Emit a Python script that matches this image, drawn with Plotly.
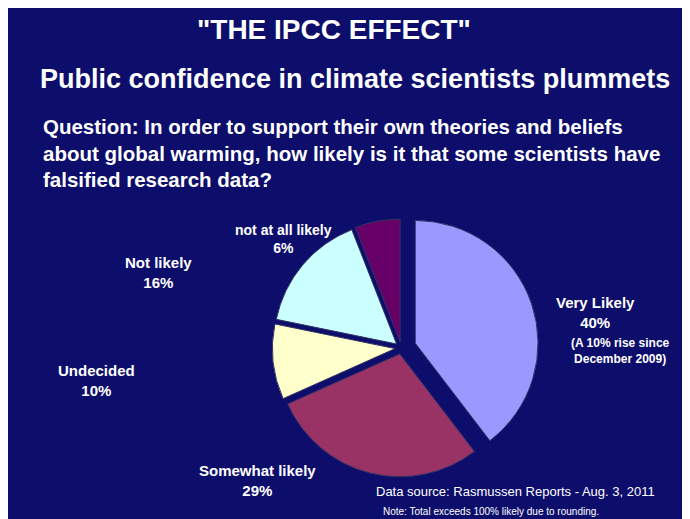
import plotly.graph_objects as go

labels = ["Very Likely", "Somewhat likely", "Undecided", "Not likely", "not at all likely"]
values = [40, 29, 10, 16, 6]
colors = ["#9999FF", "#993366", "#FFFFCC", "#CCFFFF", "#660066"]

fig = go.Figure(go.Pie(
    labels=labels, values=values, sort=False,
    direction="clockwise", rotation=0,
    marker=dict(colors=colors, line=dict(color="#333366", width=1)),
    pull=[0.12, 0.05, 0.05, 0.05, 0.05],
    textinfo="none", hoverinfo="label+percent",
    domain=dict(x=[0.3, 0.84], y=[0.08, 0.61]),
    showlegend=False,
))

F = "Liberation Sans, Arial, sans-serif"
def txt(x, y, s, size, bold=True, align="center", xanchor="center"):
    fig.add_annotation(x=x / 690, y=1 - y / 519, xref="paper", yref="paper",
                       text=f"<b>{s}</b>" if bold else s, showarrow=False,
                       font=dict(family=F, size=size, color="white"),
                       align=align, xanchor=xanchor, yanchor="middle")

txt(326, 22, '"THE IPCC EFFECT"', 28)
txt(347, 71, "Public confidence in climate scientists plummets", 27)
txt(33, 145, "Question: In order to support their own theories and beliefs<br>about global warming, how likely is it that some scientists have<br>falsified research data?", 20.5, align="left", xanchor="left")
txt(275, 231, "not at all likely<br>6%", 14)
txt(150, 264, "Not likely<br>16%", 15)
txt(88, 372, "Undecided<br>10%", 15)
txt(587, 304, "Very Likely<br>40%", 15)
txt(612, 343, "(A 10% rise since<br>December 2009)", 12)
txt(249, 472, "Somewhat likely<br>29%", 15)
txt(507, 483, "Data source: Rasmussen Reports - Aug. 3, 2011", 13, bold=False)
txt(483, 503, "Note: Total exceeds 100% likely due to rounding.", 10, bold=False)

fig.update_layout(width=690, height=519, margin=dict(l=0, r=0, t=0, b=0),
                  paper_bgcolor="#0d0d6b", plot_bgcolor="#0d0d6b")
fig.write_html("out.html")
